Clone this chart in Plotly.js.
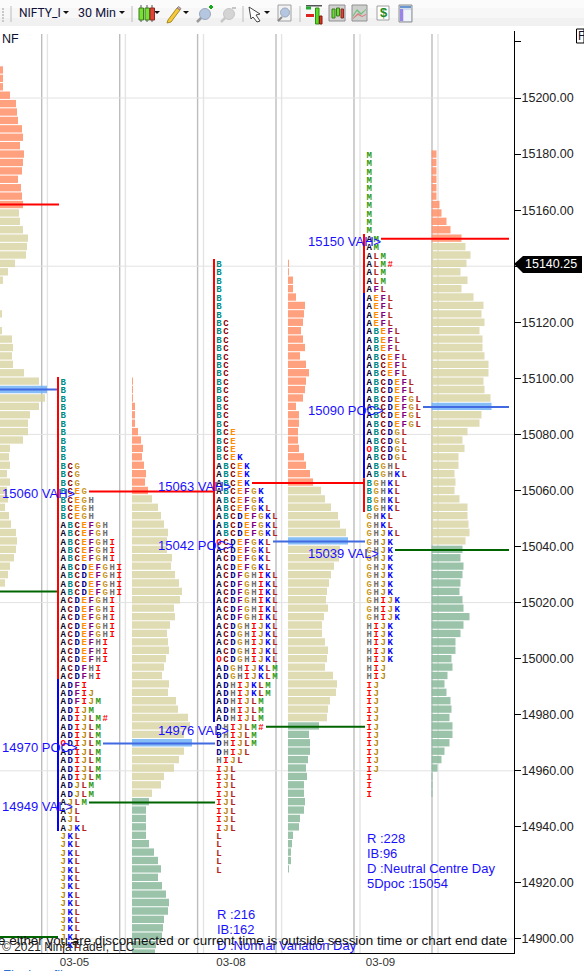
<!DOCTYPE html>
<html><head><meta charset="utf-8">
<script src="https://cdn.plot.ly/plotly-3.0.1.min.js"></script>
<style>html,body{margin:0;padding:0;background:#fff;overflow:hidden}#c{width:584px;height:971px}</style>
</head><body><div id="c"></div>
<script>
// ---------- data ----------
const tickSize = 3;
const yTicks = [15220,15200,15180,15160,15140,15120,15100,15080,15060,15040,15020,15000,14980,14960,14940,14920,14900];
const yTickLabels = ['','15200.00','15180.00','15160.00','','15120.00','15100.00','15080.00','15060.00','15040.00','15020.00','15000.00','14980.00','14960.00','14940.00','14920.00','14900.00'];
const gridPrices = [15200,15140,15080,15020,14960,14900];
const dateLabels = ['03-05','03-08','03-09'];
const lastPrice = '15140.25';

// Volume profile widths, top row first, one row per tick
const prevTop = 15210;
const prevVol = [3,3,3,10,16,17,18,22,23,20,24,23,22,18,21,22,23,19,20,23,28,27,26,15,8,3,0,0,0,2,0,2,12,13,12,13,24,39,47,45,39,30,28,28,23,10,9,10,7,10,7,8,5,9,11,16,17,16,14,10,8,5];
const day1Top = 15099;
const day1Vol = [1,1,1,3,3,3,6,9,11,10,12,14,13,16,20,26,29,32,36,35,35,40,39,43,47,50,48,42,43,38,35,36,37,34,32,30,37,36,44,46,56,58,52,60,52,47,42,32,29,20,17,14,14,14,14,17,22,26,29,26,30,34,37,36,32,31,30,24,23];
const day2Top = 15141;
const day2Vol = [1,1,5,5,8,17,16,15,13,15,17,12,18,21,18,17,15,8,11,11,10,10,11,16,18,22,25,33,37,43,50,52,58,60,52,51,46,43,41,39,38,40,36,34,34,37,40,39,37,45,49,48,42,40,39,31,21,22,22,20,18,19,16,16,17,16,12,11,5,4,3,3,1];
const day3Top = 15180;
const day3Vol = [5,5,5,5,5,5,8,10,15,19,30,34,39,35,29,36,30,42,52,50,53,48,51,51,53,57,57,52,53,59,60,50,48,36,31,33,27,27,23,24,23,28,36,36,37,38,34,31,29,32,31,29,28,31,32,38,32,29,24,24,20,21,16,13,15,19,20,18,21,21,18,13,10,6,1,1,1];

// Value area levels
const prevVAH = 15162, prevPOC = 15096, prevVAL = 15024;
const day1VAH = 15060, day1POC = 14970, day1VAL = 14949;
const day2VAH = 15063, day2POC = 15042, day2VAL = 14976;
const day3VAH = 15150, day3POC = 15090, day3VAL = 15039;

// TPO letters, top row first
const day1Tpo = 'B B B B B B B B B B BCG BCG BCG BCEG BCEGH BCEGH BCEGH ABCEFGH ABCEFGH ABCEFGHI ABCEFGHI ABCEFGHI ABCDEFGHI ABCDEFGHI ABCDEFGHI ABCDEFGHI ACDEFGHI ACDEFGHI ACDEFGHI ACDEFGHI ACDEFGHI ACDEFHI ACDEFHI ACDEFHI ACDFHI ACDFHI ADFI ADFIJ ADFIJM ADIJM ADIJLM# ADIJLM ADIJLM ODIJLM ADIJLM ADIJLM ADIJLM ADIJLM ADJLM ADJLM AJLM AJL AJL AJKL JKL JKL JKL JKL JKL JKL JKL JKL JKL JKL JKL JKL JKL JKL'.split(' ');
const day1TpoTop = 15099;
const day2Tpo = 'B B B B B B B BC BC BC BC BC BC BC BC BC BC BC BC BC BCE BCE BCE BCEK ABCEK ABCEK ABCEK ABCEFGK ABCEFGK ABCEFGKL ABCDEFGKL ABCDEFGKL ABCDEFGKL OCDEFGKL ACDEFGKL ACDEFGKL ACDEFGKL ACDFGHIKL ACDFGHIKL ACDFGHIKL ACDFGHIKL ACDFGHIKL ACDFGHIKL ACDGHIJKL ACDGHIJKL ACDGHIJKL ACDGHIJKL OCDGHIJKL ADGHIJKLM ADGHIJKLM ADHIJKLM ADHIJKLM ADHIJLM ADHIJLM ADHIJLM DHIJLM# DHIJLM DHIJLM DHIJL HIJL IJL IJL IJL IJL IJL IJL IJL IJL L L L L L'.split(' ');
const day2TpoTop = 15141;
const day3Tpo = 'M M M M M M M M M M AM AM ALM ALM# ALM ALM AFL AEFL AEFL AEFL AEFL ABEFL ABEFL ABEFL ABCEFL ABCEFL ABCEFL ABCDEFL ABCDEFL ABCDEFGL ABCDEFGL ABCDEFGL ABCDEFGL ABCDGL ABCDGL OBCDGL ABCDGL ABGHL ABGHKL BGHKL BGHKL BGHKL BGHKL GHKL GHKL GHJKL GHJK GHJK GHJK GHJK GHJK GHJK GHJK GHIJK GHIJK GHIJK HIJK HIJK HIJK HIJK HIJK HIJ HIJ IJ IJ IJ IJ IJ IJ IJ IJ IJ IJ IJ I I I'.split(' ');
const day3TpoTop = 15180;

const letterColors = {A:'#0a0a28',B:'#008b8b',C:'#8b0000',D:'#00008b',E:'#ff8c00',F:'#800080',G:'#c8961e',H:'#707070',I:'#ff0000',J:'#b8860b',K:'#0000ff',L:'#b22222',M:'#2e9a10',O:'#ff0000','#':'#ff0000'};

// Initial-balance / range bars beside each day: [from, to] in price
const day1Red = [15100.5,14992.7], day1Blue = [14992.7,14938.5];
const day2Red = [15142.6,15049.5], day2Blue = [15049.5,14977.4];
const day3RedTop = [15151.5,15130.4], day3Blue = [15130.4,15064.4], day3RedLow = [15064.4,15052.3];

// ---------- page geometry ----------
const W = 514, H = 922, T = 31;
const pxX = x => x / W;
const pxY = y => 1 - (y - T) / H;
const priceOf = y => 15200 - (y - 98) / 2.8033;

const colOrange = 'rgb(255,145,105)', colTan = 'rgb(217,213,166)', colGreen = 'rgb(136,184,155)', colBlue = 'rgb(114,178,246)';

function profile(top, vols, x0, vah, poc, val) {
  const y = [], color = [];
  vols.forEach((v, i) => {
    const p = top - i * tickSize;
    y.push(p);
    color.push(p === poc ? colBlue : p >= vah ? colOrange : p <= val ? colGreen : colTan);
  });
  return {type:'bar', orientation:'h', y, x:vols, base:vols.map(()=>x0), width:vols.map(()=>2.62),
    marker:{color, opacity:0.85, line:{width:0}}, hoverinfo:'skip', showlegend:false};
}
function tpo(top, rows, x0) {
  const xs=[], ys=[], txt=[], col=[];
  rows.forEach((r,i)=>{ [...r].forEach((ch,j)=>{
    xs.push(x0 + j*7); ys.push(top - i*tickSize - 0.5); txt.push(ch); col.push(letterColors[ch]);
  });});
  return {type:'scatter', mode:'text', x:xs, y:ys, text:txt,
    textfont:{family:'Liberation Mono', size:9, color:col, weight:'bold'}, textposition:'middle center',
    hoverinfo:'skip', showlegend:false, cliponaxis:true};
}
function level(x0,x1,p,color,w){ return {type:'scatter',mode:'lines',x:[x0,x1],y:[p,p],line:{color,width:w||2},hoverinfo:'skip',showlegend:false}; }
function vbar(x,r,color){ return {type:'scatter',mode:'lines',x:[x,x],y:r,line:{color,width:2},hoverinfo:'skip',showlegend:false}; }

const RED='#ff0000', BLU='#4169e1', GRN='#006400', IBB='#0000ff';
const traces = [
  profile(prevTop, prevVol, 0, prevVAH, prevPOC, prevVAL),
  profile(day1Top, day1Vol, 132, day1VAH, day1POC, day1VAL),
  profile(day2Top, day2Vol, 288, day2VAH, day2POC, day2VAL),
  profile(day3Top, day3Vol, 431.5, day3VAH, day3POC, day3VAL),
  tpo(day1TpoTop, day1Tpo, 63.3),
  tpo(day2TpoTop, day2Tpo, 219),
  tpo(day3TpoTop, day3Tpo, 369.3),
  vbar(58, day1Red, RED), vbar(58, day1Blue, IBB),
  vbar(214, day2Red, RED), vbar(214, day2Blue, IBB),
  vbar(364, day3RedTop, RED), vbar(364, day3Blue, IBB), vbar(364, day3RedLow, RED),
  level(0,59,prevVAH,RED), level(0,57,prevPOC,BLU), level(0,57,prevVAL,GRN),
  level(0,58,priceOf(937),GRN),
  level(89,214,day1VAH-0.4,RED), level(103,215,day1POC-0.3,BLU), level(89,215,day1VAL-0.3,GRN),
  level(252,364,day2VAH-0.3,RED), level(273,365,day2POC-0.2,BLU), level(266,365,day2VAL-0.3,GRN),
  level(381,509,day3VAH-0.2,RED), level(423,509,day3POC-0.2,BLU), level(395,509,day3VAL-0.2,GRN)
];

// ---------- chrome ----------
const shapes = [];
function rect(x0,y0,x1,y1,fill,line,lw){ shapes.push({type:'rect',xref:'paper',yref:'paper',x0:pxX(x0),x1:pxX(x1),y0:pxY(y0),y1:pxY(y1),fillcolor:fill,line:{color:line||fill,width:line?(lw||1):0},layer:'above'}); }
function seg(x0,y0,x1,y1,c,w){ shapes.push({type:'line',xref:'paper',yref:'paper',x0:pxX(x0),x1:pxX(x1),y0:pxY(y0),y1:pxY(y1),line:{color:c,width:w||1},layer:'above'}); }
function poly(pts,fill,line,w){ const d=pts.map((p,i)=>(i?'L':'M')+pxX(p[0]).toFixed(5)+' '+pxY(p[1]).toFixed(5)).join(' ')+' Z';
  shapes.push({type:'path',xref:'paper',yref:'paper',path:d,fillcolor:fill,line:{color:line||fill,width:line?(w||1):0},layer:'above'}); }
function circ(cx,cy,r,fill,line){ shapes.push({type:'circle',xref:'paper',yref:'paper',x0:pxX(cx-r),x1:pxX(cx+r),y0:pxY(cy+r),y1:pxY(cy-r),fillcolor:fill,line:{color:line||fill,width:1},layer:'above'}); }

// grid
gridPrices.forEach(p=>shapes.push({type:'line',xref:'x',yref:'y',x0:0,x1:W,y0:p,y1:p,line:{color:'#e2e2e2',width:1},layer:'below'}));
[41.7,119.7,197.6,276,354,432].forEach(x=>shapes.push({type:'line',xref:'x',yref:'paper',x0:x,x1:x,y0:0,y1:pxY(34),line:{color:'#bdbdbd',width:1.4},layer:'below'}));
[47.4,125.4,203.5,281.6,360,438].forEach(x=>shapes.push({type:'line',xref:'x',yref:'paper',x0:x,x1:x,y0:0,y1:pxY(34),line:{color:'#e4e4e4',width:1.4},layer:'below'}));

// toolbar
rect(0,0,584,8,'#fbfbfb'); rect(0,8,584,18,'#f7f7f7'); rect(0,18,584,26,'#f1f1f1');
[8,11,14,17,20].forEach(y=>rect(2,y,4,y+2,'#c8c8c8'));
[11,132,243,300].forEach(x=>seg(x,6,x,22,'#bcbcbc',1));
[[66,13],[122,13],[157,13],[186,13],[267,13]].forEach(([x,y])=>poly([[x-3,y-2],[x+3,y-2],[x,y+1]],'#111'));
// candles
seg(141,5,141,22,'#555'); rect(139,8,143.5,20,'#77e033','#3f7b21');
seg(147,5,147,22,'#555'); rect(145,8,149.5,20,'#77e033','#3f7b21');
seg(152,5,152,22,'#555'); rect(150.2,8,154.5,20,'#e24433','#8a2a20');
// pencil
poly([[168,20],[177,8],[180,10],[171,22],[167,23]],'#f4c93a','#a98a20');
poly([[177,8],[178.5,6.5],[181,8.5],[180,10]],'#e6a0a0','#888');
// magnifiers
seg(197,22,202,17,'#999',2.5); circ(205,14,5.5,'#b4c6e0','#9aa8bc'); seg(209,7,213,7,'#1aa81a',2); seg(211,5,211,9,'#1aa81a',2);
seg(221,22,226,17,'#c8c8c8',2.5); circ(229,14,5.5,'#d4d4d4','#c6c6c6'); seg(232,8,236,8,'#c6c6c6',2);
// cursor
poly([[249,7],[260,14],[256,15],[260,21],[257,22],[253,17],[251,19]],'#ffffff','#444');
// boxed magnifier
rect(278,5,291,21,'#f2f2f2','#a0a0a0'); seg(278,21,282,17,'#888',2); circ(285,12.5,4.5,'#b4c6e0','#9aa8bc');
// chart-style icons
rect(306,5,322,6.5,'#555'); rect(306,6.5,311,9.5,'#22aa33'); rect(306,14,314,17,'#dd2222');
rect(315.5,8,319,24,'#55dd22','#2f8b11'); rect(319.5,16,322,24,'#dd3322','#7a1a10');
rect(329,5,345,21,'#d2d2d2','#909090'); rect(332,9,335,18,'#66dd33','#3f7b21'); rect(336.5,8,339.5,16,'#66dd33','#3f7b21'); rect(341,9,343.5,18,'#dd4433','#8a2a20');
rect(352,5,367,21,'#cdd0cd','#909090'); poly([[353,15],[357,9],[361,13],[366,9],[366,10],[361,15],[357,11],[353,17]],'#6fc07a'); poly([[353,18],[358,13],[362,16],[366,14],[366,15],[362,17],[358,15],[353,19]],'#dd7a7a');
rect(377,6,389,20,'#ffffff','#a0a0a0');
rect(399,5,412,22,'#d0dcec','#909090'); rect(400,6,411,8,'#6a96cf'); rect(400,9,403,21,'#9a82e8'); rect(404,10,411,21,'#f0f3f8');

// flag, F box
poly([[514,264],[523,256],[582,256],[582,273],[523,273]],'#000');
rect(576.5,29,584,43,'#ffffff','#000');

const blue='#1a10ff', dark='#10103a';
function note(text,x,y,opts){ return Object.assign({xref:'paper',yref:'paper',x:pxX(x),y:pxY(y),text,showarrow:false,xanchor:'left',yanchor:'middle',
  font:{family:'Liberation Sans',size:13,color:blue},borderpad:0,borderwidth:0,align:'left'},opts||{}); }
const annotations = [
  note('NF',2,39,{font:{family:'Liberation Sans',size:12.5,color:'#101030'}}),
  note('NIFTY_I',19,13,{font:{family:'Roboto',size:12,color:dark}}),
  note('30 Min',78,13,{font:{family:'Roboto',size:12.5,color:dark}}),
  note('$',380,13,{font:{family:'Liberation Sans',size:13,color:'#1d8a1d',weight:'bold'}}),
  note('F',577.5,36,{font:{family:'Liberation Sans',size:12,color:'#101030'}}),
  note('15060 VAH>',2,494), note('15063 VAH>',158,486), note('15042 POC>',158,545),
  note('14970 POC>',2,747), note('14949 VAL>',2,806), note('14976 VAL>',158,730),
  note('15150 VAH>',308,242), note('15090 POC>',308,410), note('15039 VAL>',308,553),
  note('R :216',217,914), note('IB:162',217,929), note('D :Normal Variation Day',217,945),
  note('R :228',367,838), note('IB:96',367,853), note('D :Neutral Centre Day',367,868), note('5Dpoc :15054',367,883),
  note('Make sure either you are disconnected or current time is outside session time or chart end date',507,940,{xanchor:'right',font:{family:'Liberation Sans',size:13.4,color:'#111'}}),
  note('© 2021 NinjaTrader, LLC',2,947,{font:{family:'Liberation Sans',size:12,color:'#222'}}),
  note(lastPrice,525,264.5,{font:{family:'Liberation Sans',size:12.5,color:'#fff'}}),
  note('Final profile',3,974,{font:{family:'Liberation Sans',size:13,color:'#2a6fd0'}})
];

const layout = {
  width:584, height:971, autosize:false,
  margin:{l:0,r:70,t:T,b:18,pad:0},
  paper_bgcolor:'#fff', plot_bgcolor:'#fff',
  barmode:'overlay', showlegend:false, hovermode:false,
  font:{family:'Liberation Sans',color:'#222'},
  xaxis:{range:[0,W],showgrid:false,zeroline:false,showline:true,linecolor:'#000',linewidth:1,
    tickmode:'array',tickvals:[74.5,231,380.5],ticktext:dateLabels,ticks:'',ticklabelstandoff:-2,tickfont:{family:'Liberation Sans',size:11.5,color:'#333'},fixedrange:true},
  yaxis:{range:[priceOf(953),priceOf(31)],side:'right',showgrid:false,zeroline:false,showline:true,linecolor:'#000',linewidth:1,
    tickmode:'array',tickvals:yTicks,ticktext:yTickLabels,ticks:'outside',ticklen:6,tickwidth:1,tickcolor:'#000',ticklabelstandoff:-2,
    tickfont:{family:'Liberation Sans',size:12.5,color:'#222'},fixedrange:true},
  shapes, annotations
};
Plotly.newPlot('c',traces,layout,{displayModeBar:false,staticPlot:true});
</script></body></html>
